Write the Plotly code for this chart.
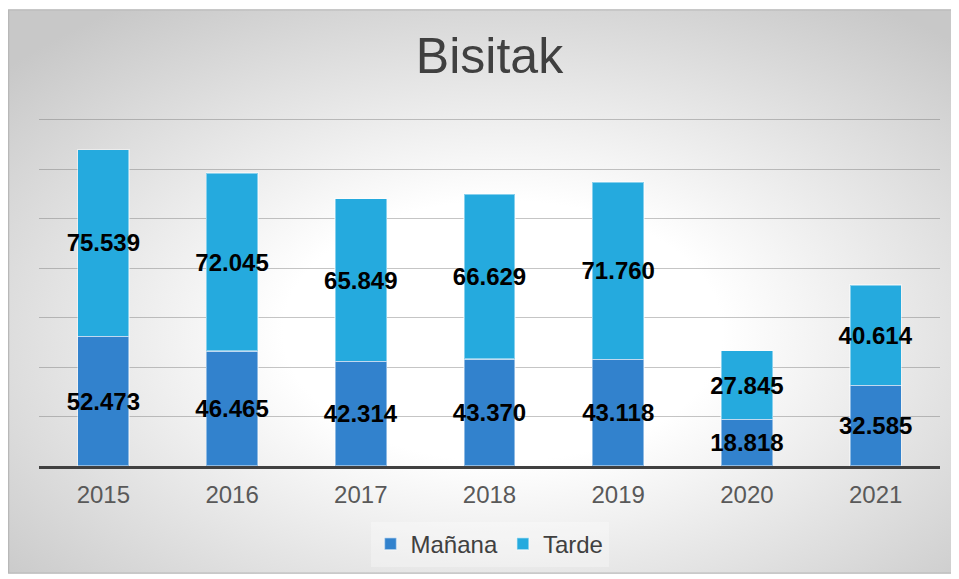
import base64
import plotly.graph_objects as go

# ── data ──────────────────────────────────────────────────────────────────────
years = ["2015", "2016", "2017", "2018", "2019", "2020", "2021"]
manana = [52473, 46465, 42314, 43370, 43118, 18818, 32585]
tarde = [75539, 72045, 65849, 66629, 71760, 27845, 40614]

_MANANA = "#3282cd"
_TARDE = "#25aade"
_TEXT = "#404040"
_FONT = "Liberation Sans, Arial, sans-serif"

# page body adds an 8px margin, so the figure itself is the grey card
W, H = 951, 571
ML, MR, MT, MB = 31, 19, 109, 109
PW, PH = W - ML - MR, H - MT - MB

# radial gradient card behind everything
svg = (
    f'<svg xmlns="http://www.w3.org/2000/svg" width="{W}" height="{H}" '
    f'viewBox="0 0 {W} {H}" preserveAspectRatio="none">'
    '<defs><radialGradient id="g" cx="52%" cy="57%" r="70%">'
    '<stop offset="0" stop-color="#ffffff"/>'
    '<stop offset="0.33" stop-color="#ffffff"/>'
    '<stop offset="1" stop-color="#c8c8c8"/>'
    '</radialGradient></defs>'
    f'<rect x="0.5" y="0.5" width="{W - 1}" height="{H - 1}" fill="url(#g)" '
    'stroke="#b8b8b8" stroke-width="1.5"/></svg>'
)
bg_src = "data:image/svg+xml;base64," + base64.b64encode(svg.encode()).decode()

fig = go.Figure()

for name, vals, col in [("Mañana", manana, _MANANA), ("Tarde", tarde, _TARDE)]:
    fig.add_trace(go.Bar(
        x=years, y=vals, name=name,
        marker=dict(color=col, line=dict(color="rgba(255,255,255,0.45)", width=1.5)),
        texttemplate="%{y:,.0f}",
        textposition="inside",
        insidetextanchor="middle",
        textangle=0,
        constraintext="none",
        insidetextfont=dict(family=_FONT, size=24, color="#000000", weight="bold"),
        cliponaxis=False,
    ))

fig.add_layout_image(
    source=bg_src, xref="paper", yref="paper",
    x=-ML / PW, y=1 + MT / PH, sizex=W / PW, sizey=H / PH,
    xanchor="left", yanchor="top", sizing="stretch", layer="below",
)

fig.update_layout(
    width=W, height=H,
    barmode="stack", bargap=0.6,
    separators=",.",
    paper_bgcolor="#ffffff",
    plot_bgcolor="rgba(0,0,0,0)",
    font=dict(family=_FONT, color=_TEXT),
    margin=dict(l=ML, r=MR, t=MT, b=MB),
    title=dict(
        text="Bisitak", font=dict(size=50, color=_TEXT),
        x=0.5, xref="paper", xanchor="center",
        y=1 - 47 / H, yref="container", yanchor="middle",
    ),
    showlegend=True,
    legend=dict(
        orientation="h", x=0.5, xanchor="center",
        y=-(539 - 460) / (H - 111 - 107), yanchor="middle",
        bgcolor="rgba(255,255,255,0.3)",
        font=dict(size=24, color=_TEXT),
        traceorder="normal",
    ),
    xaxis=dict(
        showgrid=False, showline=True, linecolor="#404040", linewidth=3,
        ticks="", tickfont=dict(size=24, color="#595959"),
        ticklabelstandoff=5,
        layer="above traces",
    ),
    yaxis=dict(
        # a little headroom above 140000 so its gridline is drawn
        range=[0, 141200], dtick=20000, showticklabels=False,
        showgrid=True, gridcolor="rgba(110,110,110,0.4)", gridwidth=1,
        zeroline=False, layer="above traces",
    ),
)

fig.write_html("out.html")
